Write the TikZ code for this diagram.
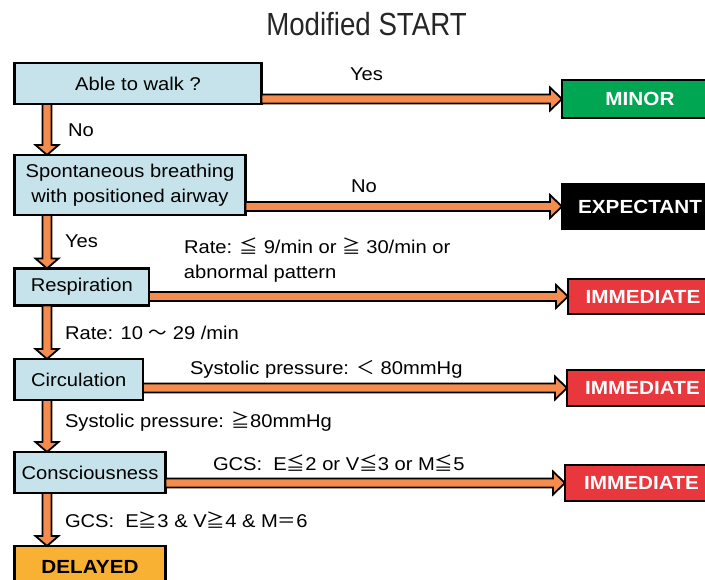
\documentclass[tikz,border=0pt]{standalone}
\usepackage{fontspec}
\setmainfont{Liberation Sans}[FakeStretch=1.09]
\newfontfamily\titlefont{Liberation Sans}[FakeStretch=0.865]
\newfontfamily\cjk{Noto Sans CJK JP}
\usetikzlibrary{calc}
\definecolor{boxblue}{HTML}{C6E3EB}
\definecolor{arroworange}{HTML}{F58B4C}
\definecolor{mgreen}{HTML}{00A651}
\definecolor{mred}{HTML}{E8383D}
\definecolor{myellow}{HTML}{F8B133}
\definecolor{titlegray}{HTML}{262626}
\newcommand{\harrow}[2]{%
  \draw[barrow] let \p1=(#1.east |- #2.west), \p2=(#2.west) in
  (\x1,\y1+4.5pt) -- (\x2-12pt,\y1+4.5pt) -- (\x2-12pt,\y1+11.5pt) -- (\x2,\y1)
  -- (\x2-12pt,\y1-11.5pt) -- (\x2-12pt,\y1-4.5pt) -- (\x1,\y1-4.5pt) -- cycle;}
\newcommand{\varrow}[2]{%
  \draw[barrow] let \p1=(#1.south west), \p2=(#2.north west) in
  (\x1+28pt,\y1) -- (\x1+28pt,\y2+10pt) -- (\x1+21pt,\y2+10pt) -- (\x1+32.5pt,\y2)
  -- (\x1+44pt,\y2+10pt) -- (\x1+37pt,\y2+10pt) -- (\x1+37pt,\y1) -- cycle;}
\tikzset{
  barrow/.style={draw=black, line width=1.8pt, fill=arroworange, line join=miter},
  stepbox/.style={draw=black, line width=2.2pt, fill=boxblue, anchor=north west,
    inner sep=0pt, outer sep=0pt, align=center},
  resbox/.style={draw=black, line width=2pt, anchor=west, inner sep=0pt, outer sep=0pt,
    font=\fontsize{19pt}{22pt}\selectfont\bfseries},
  lbl/.style={anchor=base west, inner sep=0pt, outer sep=0pt, align=left},
  every node/.style={font=\fontsize{18.5pt}{25pt}\selectfont}
}
\begin{document}
\begin{tikzpicture}[x=1pt,y=-1pt]
\clip (0,0) rectangle (705,580);
\fill[white] (0,0) rectangle (705,580);
\node[anchor=base, inner sep=0pt, text=titlegray, font=\fontsize{32pt}{36pt}\titlefont] (title) at (366.5,36) {Modified START};
% left column
\node[stepbox, minimum width=247pt, minimum height=41pt] (walk) at (14.5,63) {Able to walk ?};
\node[stepbox, minimum width=231pt, minimum height=60pt] (breath) at (14.5,155) {Spontaneous breathing\\with positioned airway};
\node[stepbox, minimum width=134.5pt, minimum height=37pt] (resp) at (14.5,268.5) {Respiration};
\node[stepbox, minimum width=128.5pt, minimum height=41pt] (circ) at (14.5,359) {Circulation};
\node[stepbox, minimum width=151pt, minimum height=41pt] (cons) at (14.5,452) {Consciousness};
\node[stepbox, fill=myellow, minimum width=151pt, minimum height=41pt, font=\fontsize{19pt}{22pt}\selectfont\bfseries] (delayed) at (14.5,546) {DELAYED};
% right column
\node[resbox, fill=mgreen, text=white, minimum width=156pt, minimum height=38pt] (minor) at (562,99) {MINOR};
\node[resbox, fill=black, text=white, minimum width=156pt, minimum height=45pt] (expect) at (562,206.5) {EXPECTANT};
\node[resbox, fill=mred, text=white, minimum width=150pt, minimum height=35pt] (imm1) at (568,296.5) {IMMEDIATE};
\node[resbox, fill=mred, text=white, minimum width=151pt, minimum height=36pt] (imm2) at (567,388) {IMMEDIATE};
\node[resbox, fill=mred, text=white, minimum width=153pt, minimum height=36pt] (imm3) at (565,483) {IMMEDIATE};
% arrows
\harrow{walk}{minor}
\harrow{breath}{expect}
\harrow{resp}{imm1}
\harrow{circ}{imm2}
\harrow{cons}{imm3}
\varrow{walk}{breath}
\varrow{breath}{resp}
\varrow{resp}{circ}
\varrow{circ}{cons}
\varrow{cons}{delayed}
% labels
\node[lbl] (l1) at (350,81) {Yes};
\node[lbl] (l2) at (68,137) {No};
\node[lbl] (l3) at (351,193) {No};
\node[lbl] (l4) at (65,248) {Yes};
\node[lbl] (l5) at (184,279) {Rate: {\cjk ≦} 9/min or {\cjk ≧} 30/min or\\abnormal pattern};
\node[lbl] (l6) at (65,340) {Rate: 10 {\cjk ～} 29 /min};
\node[lbl] (l7) at (190,375) {Systolic pressure: {\cjk ＜} 80mmHg};
\node[lbl] (l8) at (65,428) {Systolic pressure: {\cjk ≧}80mmHg};
\node[lbl] (l9) at (213,470) {GCS:\ \ E{\cjk ≦}2 or V{\cjk ≦}3 or M{\cjk ≦}5};
\node[lbl] (l10) at (65,527) {GCS:\ \ E{\cjk ≧}3 \& V{\cjk ≧}4 \& M{\cjk ＝}6};
\end{tikzpicture}
\end{document}
